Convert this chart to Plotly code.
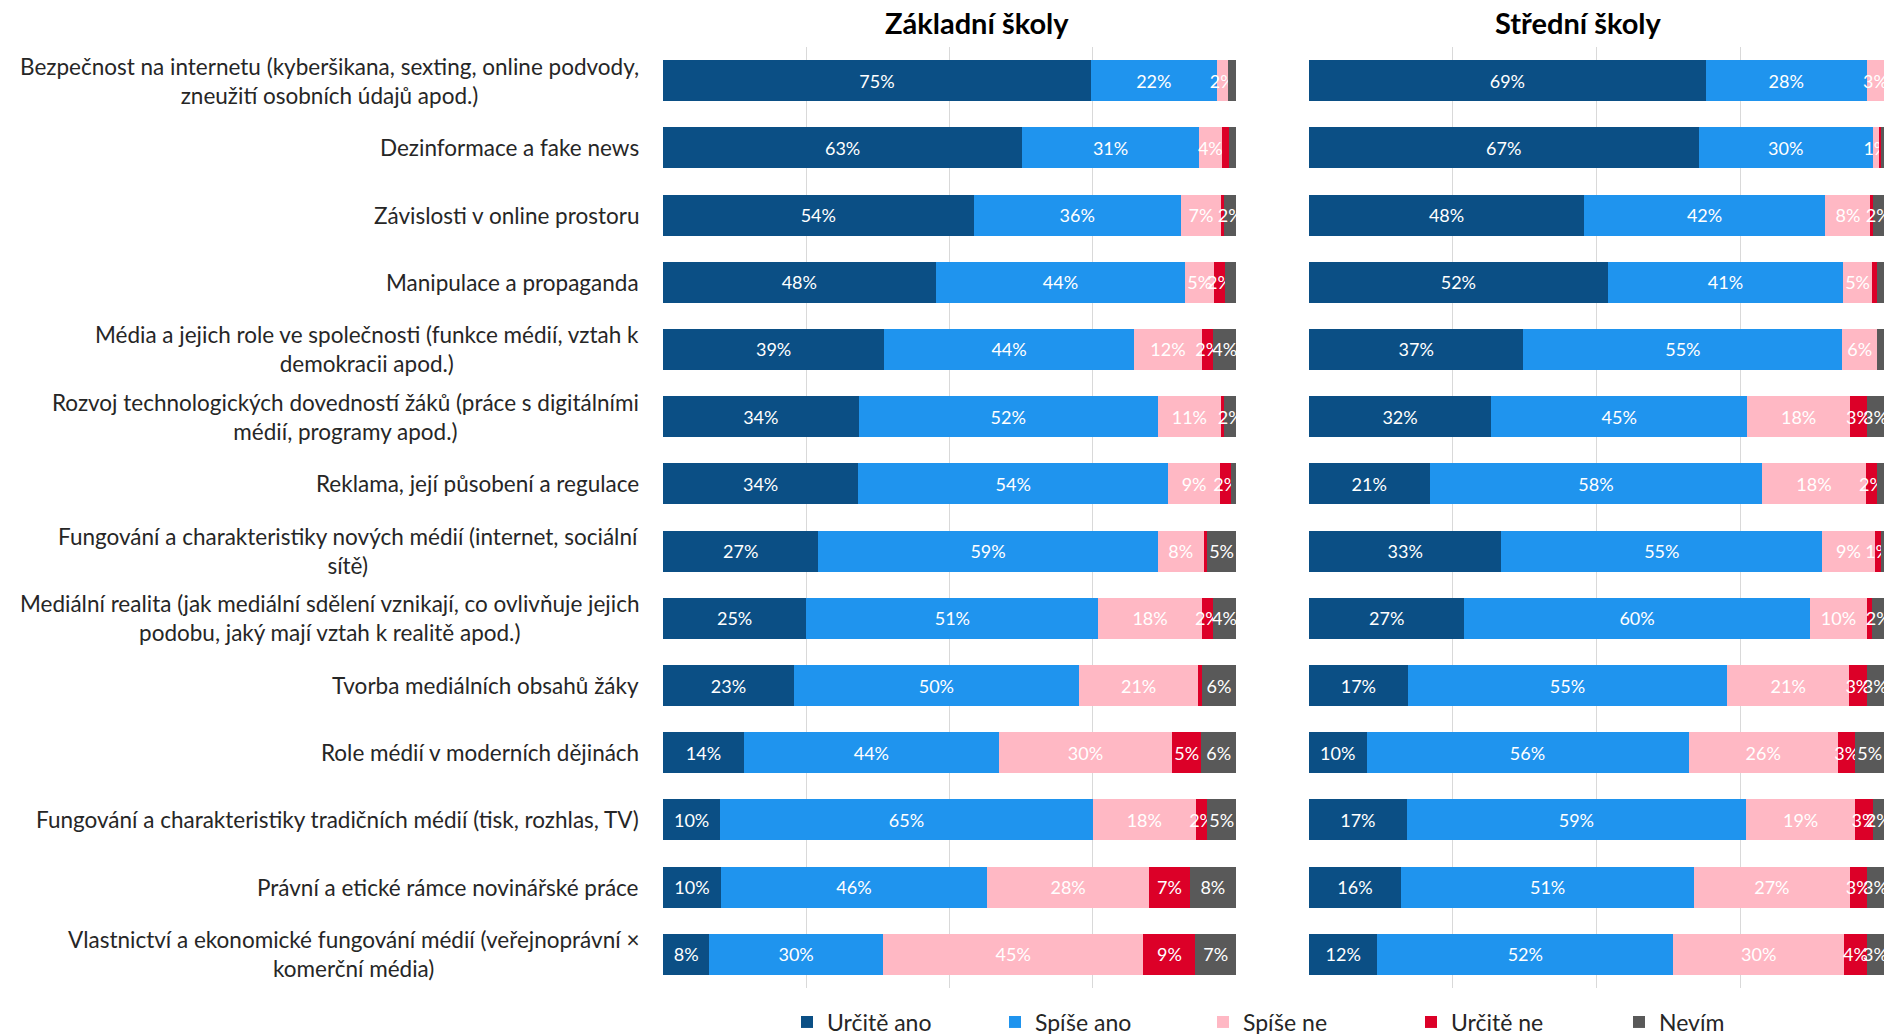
import plotly.graph_objects as go

CATEGORIES = [
    "Bezpečnost na internetu (kyberšikana, sexting, online podvody,<br>zneužití osobních údajů apod.)",
    "Dezinformace a fake news",
    "Závislosti v online prostoru",
    "Manipulace a propaganda",
    "Média a jejich role ve společnosti (funkce médií, vztah k<br>demokracii apod.)",
    "Rozvoj technologických dovedností žáků (práce s digitálními<br>médií, programy apod.)",
    "Reklama, její působení a regulace",
    "Fungování a charakteristiky nových médií (internet, sociální<br>sítě)",
    "Mediální realita (jak mediální sdělení vznikají, co ovlivňuje jejich<br>podobu, jaký mají vztah k realitě apod.)",
    "Tvorba mediálních obsahů žáky",
    "Role médií v moderních dějinách",
    "Fungování a charakteristiky tradičních médií (tisk, rozhlas, TV)",
    "Právní a etické rámce novinářské práce",
    "Vlastnictví a ekonomické fungování médií (veřejnoprávní ×<br>komerční média)",
]

SERIES = ["Určitě ano", "Spíše ano", "Spíše ne", "Určitě ne", "Nevím"]
COLORS = ["#0B4F85", "#1F94EE", "#FFB8C4", "#DC0028", "#595959"]

PANEL_TITLES = ["Základní školy", "Střední školy"]

# Základní školy
ZS_URCITE_ANO = [75, 63, 54, 48, 39, 34, 34, 27, 25, 23, 14, 10, 10, 8]
ZS_SPISE_ANO = [22, 31, 36, 44, 44, 52, 54, 59, 51, 50, 44, 65, 46, 30]
ZS_SPISE_NE = [2, 4, 7, 5, 12, 11, 9, 8, 18, 21, 30, 18, 28, 45]
ZS_URCITE_NE = [0, 1.2, 0.6, 2, 2, 0.6, 2, 0.6, 2, 0.6, 5, 2, 7, 9]
ZS_NEVIM = [1.4, 1.3, 2, 1.9, 4, 2, 0.8, 5, 4, 6, 6, 5, 8, 7]
ZS_UNLABELED = {"Určitě ne": [0, 1, 2, 5, 7, 9], "Nevím": [0, 1, 3, 6]}

# Střední školy
SS_URCITE_ANO = [69, 67, 48, 52, 37, 32, 21, 33, 27, 17, 10, 17, 16, 12]
SS_SPISE_ANO = [28, 30, 42, 41, 55, 45, 58, 55, 60, 55, 56, 59, 51, 52]
SS_SPISE_NE = [3, 1, 8, 5, 6, 18, 18, 9, 10, 21, 26, 19, 27, 30]
SS_URCITE_NE = [0, 0.4, 0.3, 0.9, 0, 3, 2, 1, 0.9, 3, 3, 3, 3, 4]
SS_NEVIM = [0, 0.5, 2, 1.2, 1.2, 3, 1.2, 0.6, 2, 3, 5, 2, 3, 3]
SS_UNLABELED = {"Určitě ne": [0, 1, 2, 3, 4, 8], "Nevím": [0, 1, 3, 4, 6, 7]}

ZS = [ZS_URCITE_ANO, ZS_SPISE_ANO, ZS_SPISE_NE, ZS_URCITE_NE, ZS_NEVIM]
SS = [SS_URCITE_ANO, SS_SPISE_ANO, SS_SPISE_NE, SS_URCITE_NE, SS_NEVIM]

FONT = "Lato"
W, H = 1886, 1034
MT, MB = 47, 46
PH = H - MT - MB
LEFT_DOM = [663 / W, 1236 / W]
RIGHT_DOM = [1309 / W, 1884 / W]


def labels(values, hidden):
    return ["" if (i in hidden or v == 0) else f"{round(v)}%" for i, v in enumerate(values)]


fig = go.Figure()
for panel, (data, unl, xa) in enumerate([(ZS, ZS_UNLABELED, "x"), (SS, SS_UNLABELED, "x2")]):
    for name, color, vals in zip(SERIES, COLORS, data):
        fig.add_trace(go.Bar(
            y=CATEGORIES, x=vals, orientation="h", name=name,
            marker=dict(color=color, line=dict(width=0)),
            text=labels(vals, unl.get(name, [])),
            textposition="inside", insidetextanchor="middle", textangle=0,
            textfont=dict(family=FONT, size=18, color="white"),
            xaxis=xa, yaxis="y", showlegend=(panel == 0),
            legendgroup=name, hoverinfo="x+y+name",
        ))

axis_common = dict(range=[0, 100], tickvals=[0, 25, 50, 75, 100], showticklabels=False,
                   showgrid=True, gridcolor="#D9D9D9", gridwidth=1, zeroline=False,
                   showline=False, ticks="", fixedrange=True)

annotations = []
for cat in CATEGORIES:
    annotations.append(dict(
        xref="paper", yref="y", x=641 / W, y=cat, xanchor="right", yanchor="middle",
        text=cat, showarrow=False, align="center",
        font=dict(family=FONT, size=22.5, color="#262626"),
    ))
for title, xc in zip(PANEL_TITLES, [977, 1578]):
    annotations.append(dict(
        xref="paper", yref="paper", x=xc / W, y=(H - 23 - MB) / PH,
        xanchor="center", yanchor="middle", text=f"<b>{title}</b>", showarrow=False,
        font=dict(family=FONT, size=29, color="#000000"),
    ))

fig.update_layout(
    width=W, height=H,
    barmode="stack", barnorm="percent", bargap=0.39,
    plot_bgcolor="white", paper_bgcolor="white",
    margin=dict(l=0, r=0, t=MT, b=MB, autoexpand=False),
    font=dict(family=FONT, size=19, color="#262626"),
    uniformtext=dict(minsize=18, mode="show"),
    xaxis=dict(domain=LEFT_DOM, anchor="y", **axis_common),
    xaxis2=dict(domain=RIGHT_DOM, anchor="y", **axis_common),
    yaxis=dict(type="category", autorange="reversed", showticklabels=False,
               showgrid=False, zeroline=False, showline=False, ticks="", fixedrange=True),
    legend=dict(orientation="h", x=787 / W, xanchor="left", y=-(1022 - (H - MB)) / PH,
                yanchor="middle", font=dict(family=FONT, size=23, color="#262626"),
                entrywidth=163, traceorder="normal", itemclick=False,
                bgcolor="rgba(0,0,0,0)"),
    annotations=annotations,
    showlegend=True,
)

fig.write_html(
    "out.html",
    config={"displayModeBar": False},
    post_script="document.body.style.margin='0';document.body.style.overflow='hidden';",
)
